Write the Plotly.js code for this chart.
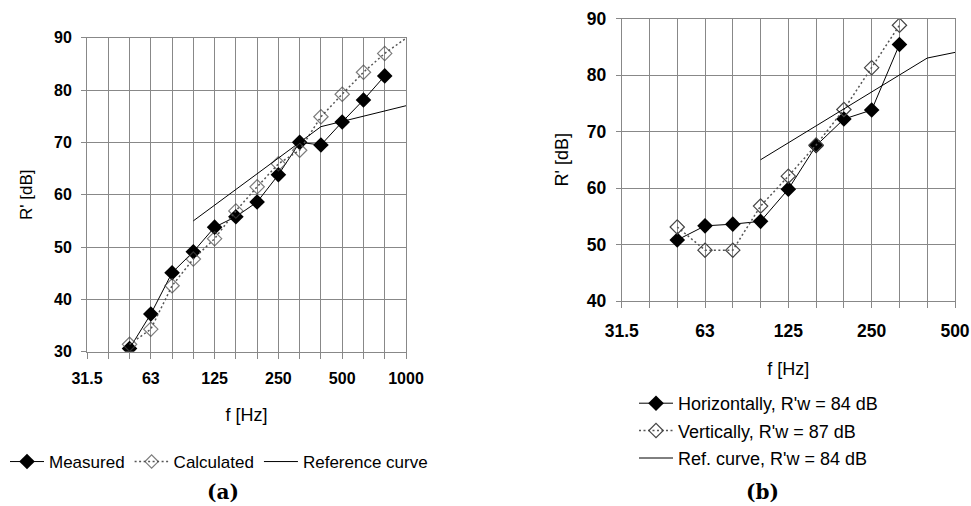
<!DOCTYPE html>
<html>
<head>
<meta charset="utf-8">
<script src="https://cdn.plot.ly/plotly-3.0.1.min.js"></script>
<style>html,body{margin:0;padding:0;background:#fff;}#chart{width:971px;height:506px;}</style>
</head>
<body>
<div id="chart"></div>
<script>
// ---- data ----
const bandsA = ['31.5','40','50','63','80','100','125','160','200','250','315','400','500','630','800','1000'];
const octaveLabelsA = ['31.5','63','125','250','500','1000'];
const measuredX = ['50','63','80','100','125','160','200','250','315','400','500','630','800'];
const measuredY = [30.6, 37.2, 45.1, 49.1, 53.8, 55.8, 58.6, 63.8, 70.0, 69.5, 73.9, 78.1, 82.7];
const calcX = ['50','63','80','100','125','160','200','250','315','400','500','630','800','1000'];
const calcY = [31.4, 34.3, 42.6, 47.7, 51.6, 56.9, 61.5, 65.9, 68.5, 74.9, 79.2, 83.4, 87.0, 89.9];
const refAX = ['100','125','160','200','250','315','400','500','630','800','1000'];
const refAY = [55, 58, 61, 64, 67, 70, 73, 74, 75, 76, 77];

const bandsB = ['31.5','40','50','63','80','100','125','160','200','250','315','400','500'];
const octaveLabelsB = ['31.5','63','125','250','500'];
const horX = ['50','63','80','100','125','160','200','250','315'];
const horY = [50.8, 53.3, 53.6, 54.1, 59.8, 67.5, 72.2, 73.8, 85.4];
const verX = ['50','63','80','100','125','160','200','250','315'];
const verY = [53.1, 49.0, 49.0, 56.8, 62.1, 67.6, 73.9, 81.3, 88.8];
const refBX = ['100','125','160','200','250','315','400','500'];
const refBY = [65, 68, 71, 74, 77, 80, 83, 84];

const namesA = ['Measured', 'Calculated', 'Reference curve'];
const namesB = ['Horizontally, R\'w = 84 dB', 'Vertically, R\'w = 87 dB', 'Ref. curve, R\'w = 84 dB'];

// ---- styles ----
const W = 971, H = 506;
const FONT = 'Liberation Sans, Arial, sans-serif';
const gridCol = '#888888';
const filled = {symbol: 'diamond', size: 12, color: '#000'};
const openM = {symbol: 'diamond-open', size: 11, color: '#444', line: {width: 1.2, color: '#444'}};
const dotted = {color: '#555', width: 1.5, dash: '2px,2.5px'};

const calcSizes = calcY.map((v, i) => i === calcY.length - 1 ? 0 : 11);

const traces = [
  {x: measuredX, y: measuredY, name: namesA[0], mode: 'lines+markers', xaxis: 'x', yaxis: 'y',
   line: {color: '#000', width: 1}, marker: filled, legend: 'legend'},
  {x: calcX, y: calcY, name: namesA[1], mode: 'lines+markers', xaxis: 'x', yaxis: 'y',
   line: dotted, marker: Object.assign({}, openM, {size: calcSizes}), legend: 'legend'},
  {x: refAX, y: refAY, name: namesA[2], mode: 'lines', xaxis: 'x', yaxis: 'y',
   line: {color: '#000', width: 1}, legend: 'legend'},
  {x: horX, y: horY, name: namesB[0], mode: 'lines+markers', xaxis: 'x2', yaxis: 'y2',
   line: {color: '#000', width: 1}, marker: filled, legend: 'legend2', legendgroup: 'g1'},
  {x: verX, y: verY, name: namesB[1], mode: 'lines+markers', xaxis: 'x2', yaxis: 'y2',
   line: dotted, marker: openM, legend: 'legend2', legendgroup: 'g2'},
  {x: refBX, y: refBY, name: namesB[2], mode: 'lines', xaxis: 'x2', yaxis: 'y2',
   line: {color: '#000', width: 1}, legend: 'legend2', legendgroup: 'g3'}
];

function xAxis(anchor, bands, labels, dom, fs, tfs, standoff, tstand) {
  return {
    anchor: anchor,
    type: 'category', categoryorder: 'array', categoryarray: bands,
    domain: dom, range: [0, bands.length - 1], fixedrange: true,
    tickmode: 'array', tickvals: bands, ticktext: bands.map(b => labels.includes(b) ? b : ''),
    showgrid: true, gridcolor: gridCol, gridwidth: 1,
    showline: true, linecolor: gridCol, mirror: true,
    ticks: 'outside', ticklen: 6, tickcolor: gridCol,
    ticklabelstandoff: tstand,
    tickfont: {family: FONT, size: fs, color: '#000', weight: 'bold'},
    title: {text: 'f [Hz]', font: {family: FONT, size: tfs, color: '#000'}, standoff: standoff},
    automargin: false, zeroline: false
  };
}
function yAxis(anchor, range, dom, fs, tfs, standoff) {
  return {
    anchor: anchor,
    domain: dom, range: range, dtick: 10, tick0: 0, fixedrange: true,
    showgrid: true, gridcolor: gridCol, gridwidth: 1,
    showline: true, linecolor: gridCol, mirror: true,
    ticks: 'outside', ticklen: 5, tickcolor: gridCol,
    ticklabelstandoff: 6,
    tickfont: {family: FONT, size: fs, color: '#000', weight: 'bold'},
    title: {text: "R' [dB]", font: {family: FONT, size: tfs, color: '#000'}, standoff: standoff},
    automargin: false, zeroline: false
  };
}

const layout = {
  width: W, height: H,
  margin: {l: 0, r: 0, t: 0, b: 0},
  paper_bgcolor: '#fff', plot_bgcolor: '#fff',
  font: {family: FONT, size: 16, color: '#000'},
  xaxis: xAxis('y', bandsA, octaveLabelsA, [87 / W, 406 / W], 16, 18, 22, 6),
  yaxis: yAxis('x', [30, 90], [(H - 351.7) / H, (H - 37.7) / H], 16, 17, 17),
  xaxis2: xAxis('y2', bandsB, octaveLabelsB, [621.7 / W, 955 / W], 17.5, 18, 22, 8),
  yaxis2: yAxis('x2', [40, 90], [(H - 301) / H, (H - 18.5) / H], 17.5, 18, 13),
  showlegend: true,
  legend: {orientation: 'h', x: 5 / W, xanchor: 'left', y: (H - 462) / H, yanchor: 'middle',
           font: {family: FONT, size: 17, color: '#000'}, bgcolor: 'rgba(0,0,0,0)', itemwidth: 34},
  legend2: {orientation: 'v', x: 634 / W, xanchor: 'left', y: (H - 431) / H, yanchor: 'middle',
            font: {family: FONT, size: 18, color: '#000'}, bgcolor: 'rgba(0,0,0,0)', tracegroupgap: 1, itemwidth: 34},
  annotations: [
    {text: '(a)', xref: 'paper', yref: 'paper', x: 223 / W, y: (H - 492) / H, xanchor: 'center', yanchor: 'middle',
     showarrow: false, font: {family: 'DejaVu Serif, serif', size: 20, color: '#000', weight: 'bold'}},
    {text: '(b)', xref: 'paper', yref: 'paper', x: 762 / W, y: (H - 492) / H, xanchor: 'center', yanchor: 'middle',
     showarrow: false, font: {family: 'DejaVu Serif, serif', size: 20, color: '#000', weight: 'bold'}}
  ]
};

Plotly.newPlot('chart', traces, layout, {displayModeBar: false, staticPlot: true});
</script>
</body>
</html>
